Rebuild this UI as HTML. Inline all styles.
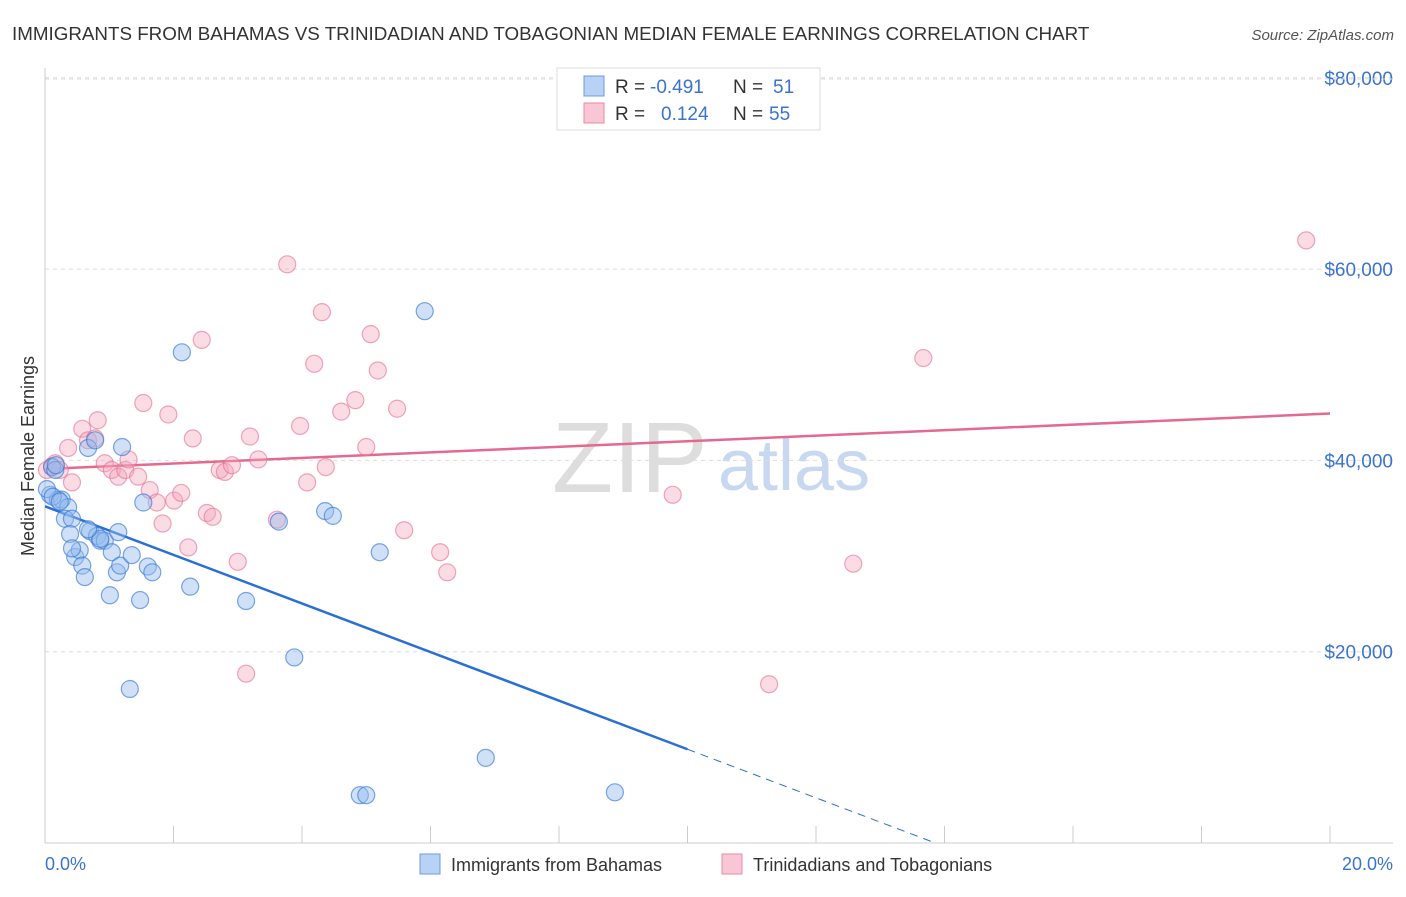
<!DOCTYPE html>
<html><head><meta charset="utf-8"><style>
body{margin:0;background:#fff;font-family:"Liberation Sans",sans-serif;}
svg text{font-family:"Liberation Sans",sans-serif;}
</style></head><body>
<svg width="1406" height="892" xmlns="http://www.w3.org/2000/svg" id="chart">
<text x="12" y="40" font-size="18.8" fill="#333">IMMIGRANTS FROM BAHAMAS VS TRINIDADIAN AND TOBAGONIAN MEDIAN FEMALE EARNINGS CORRELATION CHART</text>
<text x="1394" y="40" font-size="15" fill="#555" font-style="italic" text-anchor="end">Source: ZipAtlas.com</text>
<text x="552" y="492" font-size="100" fill="#ddd" font-family="Liberation Serif">ZIP</text>
<text x="718" y="490" font-size="72" fill="#c8d8f0">atlas</text>
<g id="grid"></g><g id="axes"></g><g id="lines"></g><g id="pts"></g>
<text x="34" y="456" font-size="18" fill="#333" text-anchor="middle" transform="rotate(-90 34 456)">Median Female Earnings</text>
<text x="45" y="870" font-size="18" fill="#3b73d1">0.0%</text>
<text x="1393" y="870" font-size="18" fill="#3b73d1" text-anchor="end">20.0%</text>
<g>
<rect x="557" y="68" width="263" height="62" fill="#fff" stroke="#ddd"/>
<rect x="584" y="76" width="20" height="20" fill="#b8d2f5" stroke="#6b9be0"/>
<rect x="584" y="103" width="20" height="20" fill="#f8c6d4" stroke="#e98aa8"/>
<text x="615" y="93" font-size="19" fill="#333">R =</text>
<text x="650" y="93" font-size="19" fill="#3b73d1">-0.491</text>
<text x="733" y="93" font-size="19" fill="#333">N =</text>
<text x="773" y="93" font-size="19" fill="#3b73d1">51</text>
<text x="615" y="120" font-size="19" fill="#333">R =</text>
<text x="661" y="120" font-size="19" fill="#3b73d1">0.124</text>
<text x="733" y="120" font-size="19" fill="#333">N =</text>
<text x="769" y="120" font-size="19" fill="#3b73d1">55</text>
</g>
<g>
<rect x="420" y="854" width="20" height="20" fill="#b8d2f5" stroke="#6b9be0"/>
<text x="451" y="871" font-size="18" fill="#333">Immigrants from Bahamas</text>
<rect x="722" y="854" width="20" height="20" fill="#f8c6d4" stroke="#e98aa8"/>
<text x="753" y="871" font-size="18" fill="#333">Trinidadians and Tobagonians</text>
</g>
</svg>
<script>
const yTicks=[20000,40000,60000,80000];
const yTickLabels=["$20,000","$40,000","$60,000","$80,000"];
const xTicks=[0,2,4,6,8,10,12,14,16,18,20];
const blueX=[0.11,0.16,0.08,0.2,0.26,0.36,0.31,0.42,0.39,0.47,0.54,0.58,0.62,0.67,0.78,0.7,0.81,0.86,0.93,1.01,1.04,1.12,1.14,1.17,1.2,1.32,1.35,1.48,1.53,1.6,1.67,2.13,2.26,3.13,3.64,3.88,4.36,4.48,4.9,5.0,5.21,5.91,6.86,8.87,0.03,0.12,0.23,0.86,0.67,0.17,0.42];
const blueY=[39300,39000,36400,35900,35900,35100,33900,33900,32300,29900,30600,29000,27800,41300,42100,32600,32100,31600,31600,25900,30400,28300,32500,29000,41400,16100,30100,25400,35600,28900,28300,51300,26800,25300,33600,19400,34700,34200,5000,5000,30400,55600,8900,5300,37000,36200,35700,31800,32800,39500,30800];
const pinkX=[0.03,0.11,0.16,0.23,0.36,0.42,0.58,0.67,0.78,0.82,0.93,1.04,1.14,1.25,1.3,1.45,1.53,1.63,1.74,1.83,1.92,2.01,2.12,2.23,2.3,2.44,2.52,2.61,2.72,2.8,2.91,3.0,3.13,3.19,3.32,3.61,3.77,3.97,4.08,4.19,4.31,4.37,4.61,4.83,5.0,5.07,5.18,5.48,5.59,6.15,6.26,9.77,11.27,12.58,13.67,19.63];
const pinkY=[39000,39400,39700,39000,41300,37700,43300,42100,42300,44200,39700,39000,38300,39000,40100,38300,46000,36900,35600,33400,44800,35800,36600,30900,42300,52600,34500,34100,39000,38800,39500,29400,17700,42500,40100,33800,60500,43600,37700,50100,55500,39300,45100,46300,41400,53200,49400,45400,32700,30400,28300,36400,16600,29200,50700,63000];
const blueTrend=[35200,-2540];
const pinkTrend=[39100,290];
const NS="http://www.w3.org/2000/svg";
const X0=45,X1=1330,Y0=843,PXY=191.3/20000;
function sx(v){return X0+(X1-X0)*v/20;}
function sy(v){return Y0-v*PXY;}
function mk(t,a,p){const e=document.createElementNS(NS,t);for(const k in a)e.setAttribute(k,a[k]);p.appendChild(e);return e;}
const gridG=document.getElementById('grid'),axesG=document.getElementById('axes'),linesG=document.getElementById('lines'),ptsG=document.getElementById('pts');
yTicks.forEach((t,i)=>{
 const l=mk('line',{x1:45,x2:1393,y1:sy(t),y2:sy(t),stroke:'#ddd','stroke-dasharray':'4,4'},gridG);
 
 
 const tx=mk('text',{x:1393,y:sy(t)+7,'font-size':19,fill:'#3b73d1','text-anchor':'end'},gridG);
 tx.textContent=yTickLabels[i];
 
 
});
const topLine=mk('line',{x1:45,x2:1393,y1:79,y2:79,stroke:'#ddd','stroke-dasharray':'4,4'},gridG);


const ya=mk('line',{x1:45,x2:45,y1:68,y2:843,stroke:'#ccc'},axesG);


const xa=mk('line',{x1:45,x2:1393,y1:843,y2:843,stroke:'#ccc'},axesG);


xTicks.forEach(t=>{
 const l=mk('line',{x1:sx(t),x2:sx(t),y1:826,y2:843,stroke:'#ccc'},axesG);
 
 
});
const l1=mk('line',{x1:sx(0),y1:sy(blueTrend[0]),x2:sx(10),y2:sy(blueTrend[0]+blueTrend[1]*10),stroke:'#2a6fd6','stroke-width':2.5},linesG);


const xz=-blueTrend[0]/blueTrend[1];
const l2=mk('line',{x1:sx(10),y1:sy(blueTrend[0]+blueTrend[1]*10),x2:sx(xz),y2:sy(0),stroke:'#2a6fd6','stroke-width':1,'stroke-dasharray':'8,6'},linesG);


const l3=mk('line',{x1:sx(0),y1:sy(pinkTrend[0]),x2:sx(20),y2:sy(pinkTrend[0]+pinkTrend[1]*20),stroke:'#e5688f','stroke-width':2.5},linesG);


pinkX.forEach((x,i)=>{
 const c=mk('circle',{cx:sx(x),cy:sy(pinkY[i]),r:8.5,fill:'rgba(244,164,188,0.4)',stroke:'rgba(229,110,145,0.6)','stroke-width':1.2},ptsG);
 
 
});
blueX.forEach((x,i)=>{
 const c=mk('circle',{cx:sx(x),cy:sy(blueY[i]),r:8.5,fill:'rgba(150,188,238,0.45)',stroke:'rgba(52,120,215,0.65)','stroke-width':1.2},ptsG);
 
 
});
</script>
</body></html>
